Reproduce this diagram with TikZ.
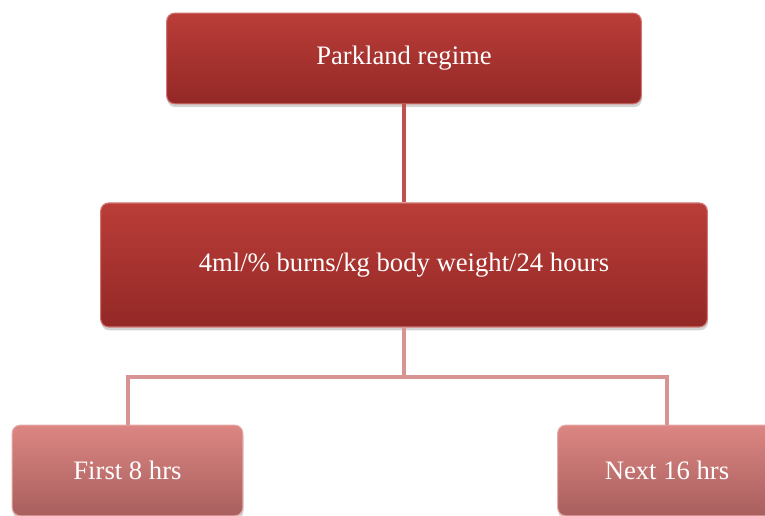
\documentclass[tikz,border=0pt]{standalone}
\usepackage{fontspec}
\setmainfont{Liberation Serif}
\usetikzlibrary{shadows}
\definecolor{darktop}{HTML}{BA3D38}
\definecolor{darkbot}{HTML}{932826}
\definecolor{palettop}{HTML}{DC8683}
\definecolor{palebot}{HTML}{A85F5D}
\definecolor{darkline}{HTML}{C0504D}
\definecolor{paleline}{HTML}{D79492}
\tikzset{
	darkbox/.style={rectangle, rounded corners=6pt, top color=darktop, bottom color=darkbot,
		draw=darktop!70!white, line width=0.8pt, text=white, font=\fontsize{20}{24}\selectfont,
		drop shadow={shadow xshift=0.5pt, shadow yshift=-2.5pt, opacity=0.35}},
	palebox/.style={darkbox, top color=palettop, bottom color=palebot, draw=palettop!70!white},
}
\begin{document}
\begin{tikzpicture}[x=0.75pt,y=-0.75pt]
		\useasboundingbox (0,0) rectangle (765,516);
		\clip (0,0) rectangle (765,516);
		\node[darkbox, minimum width=356pt, minimum height=68pt] (top) at (404,58.5) {Parkland regime};
		\node[darkbox, minimum width=455pt, minimum height=93pt] (mid) at (404,265) {4ml/\% burns/kg body weight/24 hours};
		\node[palebox, minimum width=173pt, minimum height=68pt] (first) at (127.5,470.5) {First 8 hrs};
		\node[palebox, minimum width=164pt, minimum height=68pt] (next) at (667,470.5) {Next 16 hrs};
		\coordinate (split) at (404,377);
		\draw[darkline, line width=3pt] (top) -- (mid);
		\draw[paleline, line width=3pt] (mid.south) -- (split) -| (first.north);
		\draw[paleline, line width=3pt] (split) -| (next.north);
	\end{tikzpicture}
\end{document}
